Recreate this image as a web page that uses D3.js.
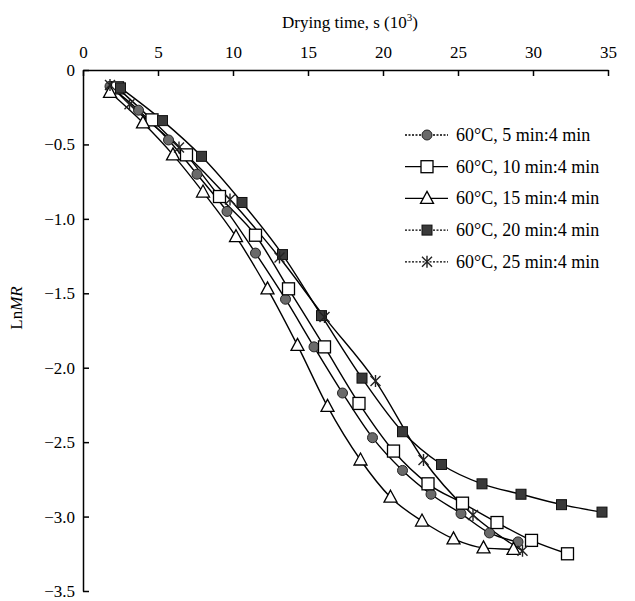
<!DOCTYPE html>
<html>
<head>
<meta charset="utf-8">
<script src="https://cdn.jsdelivr.net/npm/d3@7"></script>
<style>
  body { margin: 0; background: #fff; }
  svg { display: block; font-family: "Liberation Serif", "Times New Roman", serif; }
  .axis path, .axis line { stroke: #000; stroke-width: 1.5; }
</style>
</head>
<body>
<div id="chart"></div>
<script>
// Drying time (10^3 s) and LnMR for each tempering ratio
const time5 = [1.8, 3.7, 5.7, 7.6, 9.6, 11.5, 13.5, 15.4, 17.3, 19.3, 21.3, 23.2, 25.2, 27.1, 29.0];
const lnmr5 = [-0.11, -0.27, -0.47, -0.70, -0.95, -1.23, -1.54, -1.86, -2.17, -2.47, -2.69, -2.85, -2.98, -3.11, -3.17];

const time10 = [2.3, 4.6, 6.9, 9.1, 11.5, 13.7, 16.1, 18.4, 20.7, 23.0, 25.3, 27.6, 29.9, 32.3];
const lnmr10 = [-0.12, -0.335, -0.57, -0.85, -1.11, -1.47, -1.86, -2.24, -2.56, -2.78, -2.91, -3.04, -3.16, -3.25];

const time15 = [1.8, 4.0, 6.0, 8.0, 10.2, 12.3, 14.3, 16.3, 18.5, 20.5, 22.6, 24.7, 26.7, 28.7];
const lnmr15 = [-0.15, -0.355, -0.57, -0.82, -1.12, -1.47, -1.85, -2.26, -2.62, -2.87, -3.03, -3.15, -3.21, -3.22];

const time20 = [2.5, 5.3, 7.9, 10.6, 13.3, 15.9, 18.6, 21.3, 23.9, 26.6, 29.2, 31.9, 34.6];
const lnmr20 = [-0.12, -0.34, -0.58, -0.89, -1.24, -1.65, -2.07, -2.43, -2.65, -2.78, -2.85, -2.92, -2.97];

const time25 = [1.8, 3.1, 6.4, 9.8, 13.1, 16.1, 19.5, 22.7, 26.0, 29.3];
const lnmr25 = [-0.10, -0.23, -0.52, -0.87, -1.26, -1.66, -2.09, -2.62, -2.99, -3.23];

const seriesNames = ['60\u00B0C, 5 min:4 min', '60\u00B0C, 10 min:4 min', '60\u00B0C, 15 min:4 min',
                     '60\u00B0C, 20 min:4 min', '60\u00B0C, 25 min:4 min'];
const xTicks = [0, 5, 10, 15, 20, 25, 30, 35];
const yTicks = [0, -0.5, -1.0, -1.5, -2.0, -2.5, -3.0, -3.5];

const series = [
    { name: seriesNames[0], t: time5, v: lnmr5, marker: 'circle', dash: '2,1.5' },
    { name: seriesNames[1], t: time10, v: lnmr10, marker: 'square', dash: null },
    { name: seriesNames[2], t: time15, v: lnmr15, marker: 'triangle', dash: null },
    { name: seriesNames[3], t: time20, v: lnmr20, marker: 'filled', dash: '2,1.5' },
    { name: seriesNames[4], t: time25, v: lnmr25, marker: 'cross', dash: '2,1.5' }
];

const width = 635, height = 601;
const serif = '"Liberation Serif", "Times New Roman", serif';
const x = d3.scaleLinear().domain([0, 35]).range([83, 608]);
const y = d3.scaleLinear().domain([0, -3.5]).range([70, 591]);

const svg = d3.select('#chart').append('svg')
    .attr('width', width)
    .attr('height', height);

// Axes: x on top, ticks pointing inward
const xAxis = svg.append('g')
    .attr('class', 'axis')
    .attr('transform', `translate(0,${y(0)})`)
    .call(d3.axisTop(x).tickValues(xTicks).tickSizeInner(-6).tickSizeOuter(0).tickPadding(12)
        .tickFormat(d3.format('d')));

const yAxis = svg.append('g')
    .attr('class', 'axis')
    .attr('transform', `translate(${x(0)},0)`)
    .call(d3.axisLeft(y).tickValues(yTicks).tickSizeInner(-6).tickSizeOuter(0).tickPadding(8)
        .tickFormat(d => d === 0 ? '0' : '\u2212' + Math.abs(d).toFixed(1)));

[xAxis, yAxis].forEach(a => {
    a.attr('font-family', serif).attr('font-size', 17);
    a.selectAll('text').style('font-family', serif).style('font-size', '17px').attr('fill', '#000');
});

svg.append('text')
    .attr('x', 350)
    .attr('y', 28)
    .attr('text-anchor', 'middle')
    .style('font-size', '17px')
    .text('Drying time, s (10')
    .append('tspan').attr('dy', -7).style('font-size', '11px').text('3')
    .select(function() { return this.parentNode; })
    .append('tspan').attr('dy', 7).text(')');

const yLab = svg.append('text')
    .attr('transform', 'translate(22,308) rotate(-90)')
    .attr('text-anchor', 'middle')
    .style('font-size', '17px');
yLab.append('tspan').text('Ln');
yLab.append('tspan').style('font-style', 'italic').text('MR');

// Marker drawing
const drawMarker = (g, type) => {
    if (type === 'circle') {
        g.append('circle').attr('r', 5).attr('fill', '#6a6a6a').attr('stroke', '#222').attr('stroke-width', 1);
    } else if (type === 'square') {
        g.append('rect').attr('x', -6).attr('y', -6).attr('width', 12).attr('height', 12)
            .attr('fill', '#fff').attr('stroke', '#000').attr('stroke-width', 1.3);
    } else if (type === 'triangle') {
        g.append('path').attr('d', 'M0,-7L6.5,5L-6.5,5Z')
            .attr('fill', '#fff').attr('stroke', '#000').attr('stroke-width', 1.3);
    } else if (type === 'filled') {
        g.append('rect').attr('x', -5).attr('y', -5).attr('width', 10).attr('height', 10)
            .attr('fill', '#3a3a3a').attr('stroke', '#111').attr('stroke-width', 1);
    } else if (type === 'cross') {
        g.append('path').attr('d', 'M-5,-5L5,5M-5,5L5,-5M0,-6L0,6')
            .attr('stroke', '#222').attr('stroke-width', 1.4).attr('fill', 'none');
    }
};

const line = d3.line().curve(d3.curveMonotoneX);

series.forEach(s => {
    const pts = s.t.map((t, i) => [x(t), y(s.v[i])]);
    svg.append('path')
        .attr('d', line(pts))
        .attr('fill', 'none')
        .attr('stroke', '#000')
        .attr('stroke-width', 1.4);
});

series.forEach(s => {
    s.t.forEach((t, i) => {
        const g = svg.append('g').attr('transform', `translate(${x(t)},${y(s.v[i])})`);
        drawMarker(g, s.marker);
    });
});

// Legend
const legend = svg.append('g').attr('transform', 'translate(405,135)');
series.forEach((s, i) => {
    const row = legend.append('g').attr('transform', `translate(0,${i * 31.7})`);
    row.append('line')
        .attr('x1', 0).attr('x2', 43).attr('y1', 0).attr('y2', 0)
        .attr('stroke', '#000').attr('stroke-width', 1.3)
        .attr('stroke-dasharray', s.dash);
    drawMarker(row.append('g').attr('transform', 'translate(22,0)'), s.marker);
    row.append('text')
        .attr('x', 51)
        .attr('y', 6)
        .style('font-size', '18px')
        .text(s.name);
});
</script>
</body>
</html>
